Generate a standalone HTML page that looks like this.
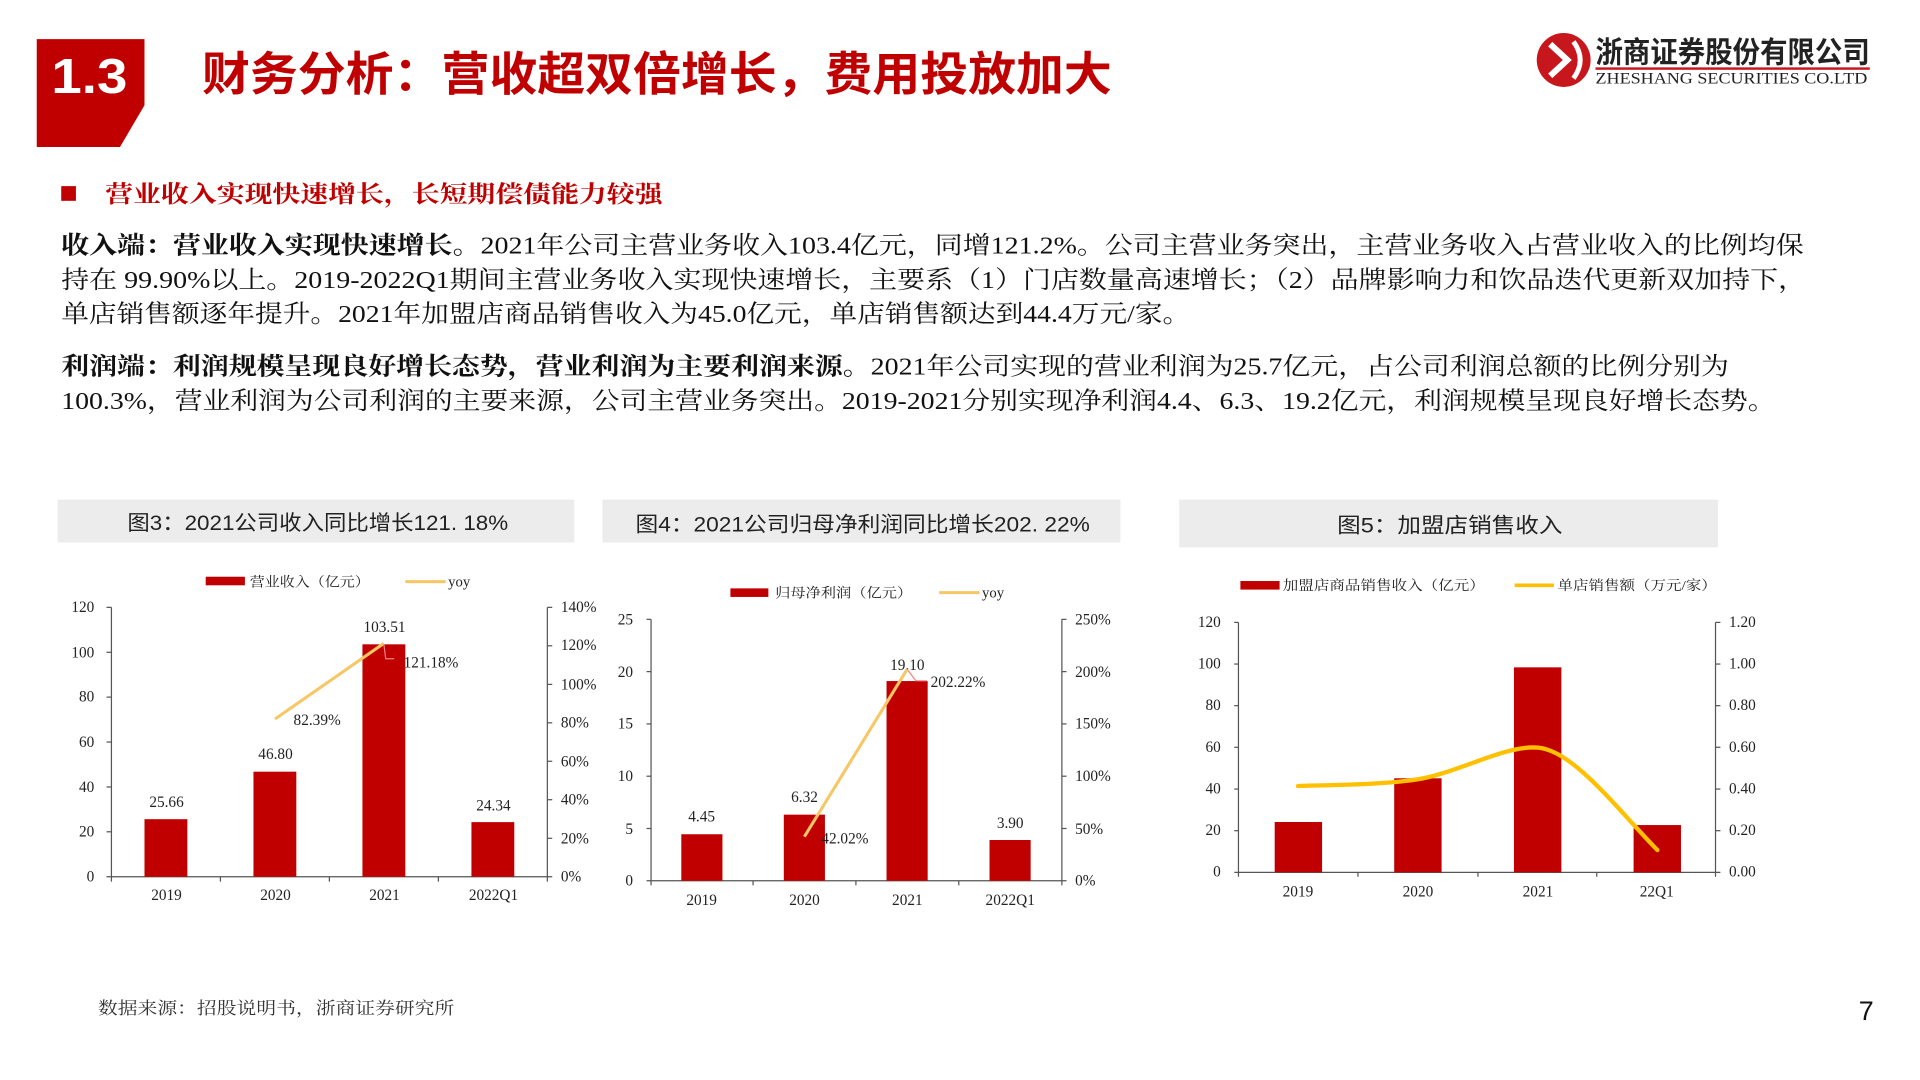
<!DOCTYPE html>
<html><head><meta charset="utf-8"><style>
html,body{margin:0;padding:0;background:#fff;width:1920px;height:1080px;overflow:hidden}
svg{display:block}
.s{font-family:"Liberation Serif","Noto Serif CJK SC",serif}
.h{font-family:"Liberation Sans","Noto Sans CJK SC",sans-serif}
</style></head><body>
<svg width="1920" height="1080" viewBox="0 0 1568 882" preserveAspectRatio="none" xmlns="http://www.w3.org/2000/svg">
<rect width="1568" height="882" fill="#fff"/>
<!-- header block -->
<polygon points="30,32 118,32 118,86 98,120 30,120" fill="#c00000"/>
<text x="42" y="76" class="h" font-size="40" font-weight="bold" fill="#fff" textLength="62" lengthAdjust="spacingAndGlyphs">1.3</text>
<text x="165" y="74" class="h" font-size="38" font-weight="bold" fill="#c00000" textLength="743" lengthAdjust="spacingAndGlyphs">财务分析：营收超双倍增长，费用投放加大</text>
<!-- logo -->
<circle cx="1277" cy="49" r="22" fill="#c8161d"/>
<path d="M1266,36 L1280,49 L1266,62" stroke="#fff" stroke-width="5" fill="none"/>
<path d="M1285,34 Q1296,49 1285,64" stroke="#fff" stroke-width="4" fill="none"/>
<text x="1303" y="51" class="h" font-size="24" font-weight="bold" fill="#222" textLength="224" lengthAdjust="spacingAndGlyphs">浙商证券股份有限公司</text>
<rect x="1303" y="55" width="224" height="2" fill="#c8161d"/>
<text x="1303" y="68" class="s" font-size="13" fill="#222" textLength="222" lengthAdjust="spacingAndGlyphs">ZHESHANG SECURITIES CO.LTD</text>
<!-- section -->
<rect x="50" y="152" width="12" height="12" fill="#c00000"/>
<text x="86" y="165" class="s" font-size="19" font-weight="bold" fill="#c00000" textLength="455" lengthAdjust="spacingAndGlyphs">营业收入实现快速增长，长短期偿债能力较强</text>
<g class="s" font-size="20" fill="#111">
<text x="50" y="207" textLength="1423" lengthAdjust="spacingAndGlyphs"><tspan font-weight="bold">收入端：营业收入实现快速增长。</tspan>2021年公司主营业务收入103.4亿元，同增121.2%。公司主营业务突出，主营业务收入占营业收入的比例均保</text>
<text x="50" y="235" textLength="1425" lengthAdjust="spacingAndGlyphs">持在 99.90%以上。2019-2022Q1期间主营业务收入实现快速增长，主要系（1）门店数量高速增长；（2）品牌影响力和饮品迭代更新双加持下，</text>
<text x="50" y="263" textLength="922" lengthAdjust="spacingAndGlyphs">单店销售额逐年提升。2021年加盟店商品销售收入为45.0亿元，单店销售额达到44.4万元/家。</text>
<text x="50" y="306" textLength="1362" lengthAdjust="spacingAndGlyphs"><tspan font-weight="bold">利润端：利润规模呈现良好增长态势，营业利润为主要利润来源。</tspan>2021年公司实现的营业利润为25.7亿元，占公司利润总额的比例分别为</text>
<text x="50" y="334" textLength="1400" lengthAdjust="spacingAndGlyphs">100.3%，营业利润为公司利润的主要来源，公司主营业务突出。2019-2021分别实现净利润4.4、6.3、19.2亿元，利润规模呈现良好增长态势。</text>
</g>
<!-- chart headers -->
<rect x="47" y="408" width="422" height="35" fill="#ececec"/>
<rect x="492" y="408" width="423" height="35" fill="#ececec"/>
<rect x="963" y="408" width="440" height="39" fill="#ececec"/>
<g class="h" font-size="17" fill="#222">
<text x="104" y="433" textLength="311" lengthAdjust="spacingAndGlyphs">图3：2021公司收入同比增长121. 18%</text>
<text x="519" y="434" textLength="371" lengthAdjust="spacingAndGlyphs">图4：2021公司归母净利润同比增长202. 22%</text>
<text x="1092" y="435" textLength="184" lengthAdjust="spacingAndGlyphs">图5：加盟店销售收入</text>
</g>

<!-- chart 1 -->
<g class="s" font-size="12.5" fill="#222">
<rect x="168" y="471" width="32" height="7" fill="#c00000"/>
<text x="204" y="479" font-size="11" textLength="98" lengthAdjust="spacingAndGlyphs">营业收入（亿元）</text>
<line x1="331" y1="475" x2="364" y2="475" stroke="#f8c765" stroke-width="2.5"/>
<text x="366" y="479" font-size="12">yoy</text>
<line x1="91" y1="496" x2="91" y2="716" stroke="#555"/>
<line x1="447" y1="496" x2="447" y2="716" stroke="#555"/>
<line x1="87" y1="716" x2="451" y2="716" stroke="#555"/>
<g stroke="#555"><line x1="87" y1="496" x2="91" y2="496"/><line x1="87" y1="532.7" x2="91" y2="532.7"/><line x1="87" y1="569.3" x2="91" y2="569.3"/><line x1="87" y1="606" x2="91" y2="606"/><line x1="87" y1="642.7" x2="91" y2="642.7"/><line x1="87" y1="679.3" x2="91" y2="679.3"/>
<line x1="447" y1="496" x2="451" y2="496"/><line x1="447" y1="527.4" x2="451" y2="527.4"/><line x1="447" y1="558.9" x2="451" y2="558.9"/><line x1="447" y1="590.3" x2="451" y2="590.3"/><line x1="447" y1="621.7" x2="451" y2="621.7"/><line x1="447" y1="653.1" x2="451" y2="653.1"/><line x1="447" y1="684.6" x2="451" y2="684.6"/>
<line x1="180" y1="716" x2="180" y2="720"/><line x1="269" y1="716" x2="269" y2="720"/><line x1="358" y1="716" x2="358" y2="720"/><line x1="91" y1="716" x2="91" y2="720"/><line x1="447" y1="716" x2="447" y2="720"/></g>
<g text-anchor="end"><text x="77" y="500">120</text><text x="77" y="537">100</text><text x="77" y="573">80</text><text x="77" y="610">60</text><text x="77" y="647">40</text><text x="77" y="683">20</text><text x="77" y="720">0</text></g>
<g><text x="458" y="500">140%</text><text x="458" y="531">120%</text><text x="458" y="563">100%</text><text x="458" y="594">80%</text><text x="458" y="626">60%</text><text x="458" y="657">40%</text><text x="458" y="689">20%</text><text x="458" y="720">0%</text></g>
<g fill="#c00000"><rect x="118" y="669" width="35" height="47"/><rect x="207" y="630.2" width="35" height="85.8"/><rect x="296" y="526.2" width="35" height="189.8"/><rect x="385" y="671.4" width="35" height="44.6"/></g>
<g text-anchor="middle"><text x="136" y="659">25.66</text><text x="225" y="620">46.80</text><text x="314" y="516">103.51</text><text x="403" y="662">24.34</text></g>
<g text-anchor="middle"><text x="136" y="735">2019</text><text x="225" y="735">2020</text><text x="314" y="735">2021</text><text x="403" y="735">2022Q1</text></g>
<polyline points="224.6,587.2 313.5,525.4" stroke="#f8c765" stroke-width="2.5" fill="none"/>
<polyline points="313.5,526 315,538 322,538" stroke="#f08080" stroke-width="1" fill="none"/>
<text x="259" y="592" text-anchor="middle">82.39%</text>
<text x="352" y="545" text-anchor="middle">121.18%</text>
</g>

<!-- chart 2 -->
<g class="s" font-size="12.5" fill="#222">
<rect x="596.5" y="480.5" width="31" height="7" fill="#c00000"/>
<text x="633" y="488" font-size="11" textLength="112" lengthAdjust="spacingAndGlyphs">归母净利润（亿元）</text>
<line x1="767" y1="484" x2="800" y2="484" stroke="#f8c765" stroke-width="2.5"/>
<text x="802" y="488" font-size="12">yoy</text>
<line x1="531.7" y1="505.8" x2="531.7" y2="719.3" stroke="#555"/>
<line x1="867.2" y1="505.8" x2="867.2" y2="719.3" stroke="#555"/>
<line x1="528" y1="719.3" x2="871" y2="719.3" stroke="#555"/>
<g stroke="#555"><line x1="528" y1="505.8" x2="531.7" y2="505.8"/><line x1="528" y1="548.5" x2="531.7" y2="548.5"/><line x1="528" y1="591.2" x2="531.7" y2="591.2"/><line x1="528" y1="633.9" x2="531.7" y2="633.9"/><line x1="528" y1="676.6" x2="531.7" y2="676.6"/>
<line x1="867" y1="505.8" x2="871" y2="505.8"/><line x1="867" y1="548.5" x2="871" y2="548.5"/><line x1="867" y1="591.2" x2="871" y2="591.2"/><line x1="867" y1="633.9" x2="871" y2="633.9"/><line x1="867" y1="676.6" x2="871" y2="676.6"/>
<line x1="615" y1="719.3" x2="615" y2="723"/><line x1="699" y1="719.3" x2="699" y2="723"/><line x1="783" y1="719.3" x2="783" y2="723"/><line x1="531.7" y1="719.3" x2="531.7" y2="723"/><line x1="867.2" y1="719.3" x2="867.2" y2="723"/></g>
<g text-anchor="end"><text x="517" y="510">25</text><text x="517" y="553">20</text><text x="517" y="595">15</text><text x="517" y="638">10</text><text x="517" y="681">5</text><text x="517" y="723">0</text></g>
<g><text x="878" y="510">250%</text><text x="878" y="553">200%</text><text x="878" y="595">150%</text><text x="878" y="638">100%</text><text x="878" y="681">50%</text><text x="878" y="723">0%</text></g>
<g fill="#c00000"><rect x="556.4" y="681.3" width="33.6" height="38"/><rect x="640.1" y="665.3" width="33.6" height="54"/><rect x="724" y="556.2" width="33.6" height="163.1"/><rect x="808.1" y="686" width="33.6" height="33.3"/></g>
<g text-anchor="middle"><text x="573" y="671">4.45</text><text x="657" y="655">6.32</text><text x="741" y="547">19.10</text><text x="825" y="676">3.90</text></g>
<g text-anchor="middle"><text x="573" y="739">2019</text><text x="657" y="739">2020</text><text x="741" y="739">2021</text><text x="825" y="739">2022Q1</text></g>
<polyline points="740.8,546.6 748,556 757,556" stroke="#f08080" stroke-width="1" fill="none"/>
<polyline points="656.9,683.3 740.8,546.6" stroke="#f8c765" stroke-width="2.5" fill="none"/>
<text x="690" y="689" text-anchor="middle">42.02%</text>
<text x="760" y="561">202.22%</text>
</g>

<!-- chart 3 -->
<g class="s" font-size="12.5" fill="#222">
<rect x="1013" y="474.5" width="32" height="7" fill="#c00000"/>
<text x="1047.6" y="482" font-size="11" textLength="165" lengthAdjust="spacingAndGlyphs">加盟店商品销售收入（亿元）</text>
<line x1="1237" y1="478" x2="1269" y2="478" stroke="#ffc000" stroke-width="3"/>
<text x="1272" y="482" font-size="11" textLength="130" lengthAdjust="spacingAndGlyphs">单店销售额（万元/家）</text>
<line x1="1011.4" y1="508.3" x2="1011.4" y2="712.4" stroke="#555"/>
<line x1="1401" y1="508.3" x2="1401" y2="712.4" stroke="#555"/>
<line x1="1008" y1="712.4" x2="1405" y2="712.4" stroke="#555"/>
<g stroke="#555"><line x1="1008" y1="508.3" x2="1011.4" y2="508.3"/><line x1="1008" y1="542.3" x2="1011.4" y2="542.3"/><line x1="1008" y1="576.3" x2="1011.4" y2="576.3"/><line x1="1008" y1="610.3" x2="1011.4" y2="610.3"/><line x1="1008" y1="644.4" x2="1011.4" y2="644.4"/><line x1="1008" y1="678.4" x2="1011.4" y2="678.4"/>
<line x1="1401" y1="508.3" x2="1405" y2="508.3"/><line x1="1401" y1="542.3" x2="1405" y2="542.3"/><line x1="1401" y1="576.3" x2="1405" y2="576.3"/><line x1="1401" y1="610.3" x2="1405" y2="610.3"/><line x1="1401" y1="644.4" x2="1405" y2="644.4"/><line x1="1401" y1="678.4" x2="1405" y2="678.4"/>
<line x1="1109" y1="712.4" x2="1109" y2="716"/><line x1="1207" y1="712.4" x2="1207" y2="716"/><line x1="1304" y1="712.4" x2="1304" y2="716"/><line x1="1011.4" y1="712.4" x2="1011.4" y2="716"/><line x1="1401" y1="712.4" x2="1401" y2="716"/></g>
<g text-anchor="end"><text x="997" y="512">120</text><text x="997" y="546">100</text><text x="997" y="580">80</text><text x="997" y="614">60</text><text x="997" y="648">40</text><text x="997" y="682">20</text><text x="997" y="716">0</text></g>
<g><text x="1412" y="512">1.20</text><text x="1412" y="546">1.00</text><text x="1412" y="580">0.80</text><text x="1412" y="614">0.60</text><text x="1412" y="648">0.40</text><text x="1412" y="682">0.20</text><text x="1412" y="716">0.00</text></g>
<g fill="#c00000"><rect x="1041" y="671.3" width="38.7" height="41.1"/><rect x="1138.6" y="635.6" width="38.7" height="76.8"/><rect x="1236.4" y="545" width="38.7" height="167.4"/><rect x="1334.1" y="673.8" width="38.7" height="38.6"/></g>
<g text-anchor="middle"><text x="1060" y="732">2019</text><text x="1158" y="732">2020</text><text x="1256" y="732">2021</text><text x="1353" y="732">22Q1</text></g>
<path d="M1060,641.9 C1076.3,641 1125.3,641.6 1158,636.4 C1190.7,631.2 1230,608 1256,610.6 C1285,613 1320,660 1353.5,694.2" stroke="#ffc000" stroke-width="3.5" fill="none" stroke-linecap="round"/>
</g>

<!-- footer -->
<text x="80" y="828" class="s" font-size="14" fill="#333" textLength="291" lengthAdjust="spacingAndGlyphs">数据来源：招股说明书，浙商证券研究所</text>
<text x="1518" y="833" class="h" font-size="22" fill="#111">7</text>
</svg>
</body></html>
